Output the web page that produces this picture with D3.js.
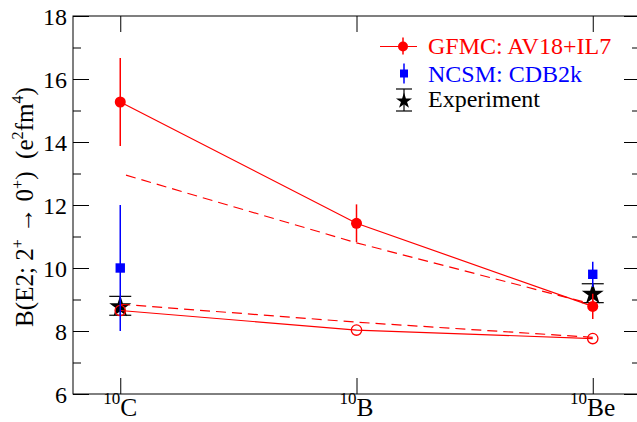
<!DOCTYPE html>
<html><head><meta charset="utf-8">
<script src="https://cdn.jsdelivr.net/npm/d3@7"></script>
<style>
body{margin:0;background:#fff}
svg{display:block}
text{font-family:"Liberation Serif","Times New Roman",Times,"DejaVu Serif",serif !important}
</style>
</head><body>
<svg id="c" width="637" height="422"></svg>
<script>
// ---------- data ----------
const nuclei = ["C", "B", "Be"];
const massNumbers = ["10", "10", "10"];
const xPos = [1, 2, 3];
const gfmcIL7 = [15.27, 11.42, 8.78];
const gfmcIL7Err = [1.4, 0.6, 0.4];
const gfmcIL7Dash = [13.0, 10.8, 8.85];
const gfmcAV18 = [8.65, 8.03, 7.76];
const gfmcAV18Dash = [8.85, 8.28, 7.8];
const ncsmX = [1, 3];
const ncsm = [10.0, 9.8];
const ncsmErr = [2.0, 0.4];
const expX = [1, 3];
const expVal = [8.8, 9.2];
const expErr = [0.3, 0.3];
const yTicks = [6, 8, 10, 12, 14, 16, 18];
const yMinor = [7, 9, 11, 13, 15, 17];
const legendLabels = ["GFMC: AV18+IL7", "NCSM: CDB2k", "Experiment"];

// ---------- layout ----------
const L = 73, R = 640, T = 16, B = 394;
const RED = "#ff0000", BLUE = "#0000ff";
const svg = d3.select("#c");
const x = d3.scaleLinear().domain([0.8, 3.2]).range([L, R]);
const y = d3.scaleLinear().domain([6, 18]).range([B, T]);

function scaleText(sel, k) {
  sel.attr("font-size", +sel.attr("font-size") * k);
  sel.selectAll("tspan").each(function () {
    const t = d3.select(this);
    const fs = +t.attr("font-size");
    if (fs) t.attr("font-size", fs * k);
    const dy = t.attr("dy");
    if (dy) t.attr("dy", +dy * k);
  });
}
function fitFactor(sel, target) {
  const w = sel.node().getBBox().width;
  return w > 0 ? target / w : 1;
}

// frame
svg.append("rect").attr("x", L).attr("y", T).attr("width", R - L).attr("height", B - T)
  .attr("fill", "none").attr("stroke", "#000").attr("stroke-width", 1);

function styleAxis(g) {
  g.select(".domain").remove();
  g.selectAll(".tick line").attr("stroke", "#000");
}
// left axis
const yl = svg.append("g").attr("transform", `translate(${L},0)`)
  .call(d3.axisLeft(y).tickValues(yTicks).tickSize(-16).tickPadding(6).tickFormat(d3.format("d")))
  .call(styleAxis)
  .call(g => g.selectAll("text").attr("font-size", 24).attr("fill", "#000").attr("dy", "0.34em"));
{
  const k = fitFactor(yl.selectAll("text").filter(d => d === 18), 24);
  yl.selectAll("text").attr("font-size", 24 * k);
}
svg.append("g").attr("transform", `translate(${L},0)`)
  .call(d3.axisLeft(y).tickValues(yMinor).tickSize(-8).tickFormat(""))
  .call(styleAxis);
// right axis
svg.append("g").attr("transform", `translate(${R},0)`)
  .call(d3.axisRight(y).tickValues(yTicks).tickSize(-16).tickFormat(""))
  .call(styleAxis);
svg.append("g").attr("transform", `translate(${R},0)`)
  .call(d3.axisRight(y).tickValues(yMinor).tickSize(-8).tickFormat(""))
  .call(styleAxis);
// bottom / top ticks
svg.append("g").attr("transform", `translate(0,${B})`)
  .call(d3.axisBottom(x).tickValues(xPos).tickSize(-16).tickFormat(""))
  .call(styleAxis);
svg.append("g").attr("transform", `translate(0,${T})`)
  .call(d3.axisTop(x).tickValues(xPos).tickSize(-16).tickFormat(""))
  .call(styleAxis);

// x labels (same size for all, fitted on the first)
const xLabels = xPos.map((v, i) => {
  const t = svg.append("text").attr("x", x(v)).attr("y", 416)
    .attr("text-anchor", "middle").attr("font-size", 24).attr("fill", "#000");
  t.append("tspan").attr("font-size", 16).attr("dy", -11).text(massNumbers[i]);
  t.append("tspan").attr("dy", 11).text(nuclei[i]);
  return t;
});
{
  const k = fitFactor(xLabels[0], 34);
  xLabels.forEach(t => scaleText(t, k));
}

// y title
const titleParts = [["B(E2; 2", 0], ["+", 1], [" \u2192 0", 0], ["+", 1], [")  (e", 0], ["2", 1], ["fm", 0], ["4", 1], [")", 0]];
const yt = svg.append("text").attr("transform", `translate(33,${(T + B) / 2 + 2}) rotate(-90)`)
  .attr("text-anchor", "middle").attr("font-size", 25).attr("fill", "#000")
  .style("white-space", "pre");
let raised = false;
titleParts.forEach(([s, sup]) => {
  const ts = yt.append("tspan").text(s);
  if (sup) { ts.attr("font-size", 16); if (!raised) ts.attr("dy", -10); raised = true; }
  else if (raised) { ts.attr("dy", 10); raised = false; }
});
scaleText(yt, fitFactor(yt, 240));

// ---------- series ----------
const line = d3.line().x(d => x(d[0])).y(d => y(d[1]));
const zip = (xs, ys) => xs.map((v, i) => [v, ys[i]]);

// experiment (bottom layer)
const star = d3.symbol().type(d3.symbolStar);
expX.forEach((v, i) => {
  const cx = x(v);
  svg.append("line").attr("x1", cx).attr("x2", cx).attr("y1", y(expVal[i] + expErr[i])).attr("y2", y(expVal[i] - expErr[i]))
    .attr("stroke", "#000").attr("stroke-width", 1.2);
  [expVal[i] + expErr[i], expVal[i] - expErr[i]].forEach(e =>
    svg.append("line").attr("x1", cx - 11).attr("x2", cx + 11).attr("y1", y(e)).attr("y2", y(e))
      .attr("stroke", "#000").attr("stroke-width", 1.2));
  svg.append("path").attr("d", star.size(150)()).attr("transform", `translate(${cx},${y(expVal[i]) + 1})`)
    .attr("fill", "#000");
});

// lines
svg.append("path").attr("d", line(zip(xPos, gfmcIL7))).attr("fill", "none").attr("stroke", RED).attr("stroke-width", 1.2);
svg.append("path").attr("d", line(zip(xPos, gfmcIL7Dash))).attr("fill", "none").attr("stroke", RED).attr("stroke-width", 1.2)
  .attr("stroke-dasharray", "10,6").attr("stroke-dashoffset", 10);
svg.append("path").attr("d", line(zip(xPos, gfmcAV18))).attr("fill", "none").attr("stroke", RED).attr("stroke-width", 1.2);
svg.append("path").attr("d", line(zip(xPos, gfmcAV18Dash))).attr("fill", "none").attr("stroke", RED).attr("stroke-width", 1.2)
  .attr("stroke-dasharray", "10,6");

// GFMC IL7 error bars + markers
xPos.forEach((v, i) => {
  svg.append("line").attr("x1", x(v)).attr("x2", x(v))
    .attr("y1", y(gfmcIL7[i] + gfmcIL7Err[i])).attr("y2", y(gfmcIL7[i] - gfmcIL7Err[i]))
    .attr("stroke", RED).attr("stroke-width", 1.5);
});
svg.selectAll(".fc").data(zip(xPos, gfmcIL7)).join("circle")
  .attr("cx", d => x(d[0])).attr("cy", d => y(d[1])).attr("r", 5.5).attr("fill", RED);
svg.selectAll(".oc").data(zip(xPos, gfmcAV18)).join("circle")
  .attr("cx", d => x(d[0])).attr("cy", d => y(d[1])).attr("r", 5.2)
  .attr("fill", "none").attr("stroke", RED).attr("stroke-width", 1.3);

// NCSM
ncsmX.forEach((v, i) => {
  svg.append("line").attr("x1", x(v)).attr("x2", x(v))
    .attr("y1", y(ncsm[i] + ncsmErr[i])).attr("y2", y(ncsm[i] - ncsmErr[i]))
    .attr("stroke", BLUE).attr("stroke-width", 1.5);
  svg.append("rect").attr("x", x(v) - 4.7).attr("y", y(ncsm[i]) - 4.7).attr("width", 9.4).attr("height", 9.4)
    .attr("fill", BLUE);
});

// ---------- legend ----------
const lg = svg.append("g");
const lx = 403, tx = 428;
const rows = [46.5, 73.5, 100];
lg.append("line").attr("x1", 380).attr("x2", 417).attr("y1", rows[0]).attr("y2", rows[0]).attr("stroke", RED).attr("stroke-width", 1.2);
lg.append("line").attr("x1", lx).attr("x2", lx).attr("y1", rows[0] - 9).attr("y2", rows[0] + 8).attr("stroke", RED).attr("stroke-width", 1.5);
lg.append("circle").attr("cx", lx).attr("cy", rows[0]).attr("r", 5).attr("fill", RED);
lg.append("line").attr("x1", lx + 1).attr("x2", lx + 1).attr("y1", rows[1] - 10).attr("y2", rows[1] + 10).attr("stroke", BLUE).attr("stroke-width", 1.5);
lg.append("rect").attr("x", lx + 1 - 4).attr("y", rows[1] - 4).attr("width", 8).attr("height", 8).attr("fill", BLUE);
lg.append("line").attr("x1", lx + 1).attr("x2", lx + 1).attr("y1", rows[2] - 11).attr("y2", rows[2] + 11).attr("stroke", "#000").attr("stroke-width", 1.2);
[rows[2] - 11, rows[2] + 11].forEach(e => lg.append("line").attr("x1", lx - 7).attr("x2", lx + 9).attr("y1", e).attr("y2", e).attr("stroke", "#000").attr("stroke-width", 1.2));
lg.append("path").attr("d", star.size(80)()).attr("transform", `translate(${lx + 1},${rows[2] + 1})`).attr("fill", "#000");

const colors = [RED, BLUE, "#000"];
const baselines = [53.5, 81.5, 107];
const legTexts = legendLabels.map((s, i) => lg.append("text").attr("x", tx).attr("y", baselines[i])
  .attr("font-size", 24).attr("fill", colors[i]).text(s));
{
  const k = Math.min(1, fitFactor(legTexts[0], 196));
  legTexts.forEach(t => t.attr("font-size", 24 * k));
}
</script>
</body></html>
